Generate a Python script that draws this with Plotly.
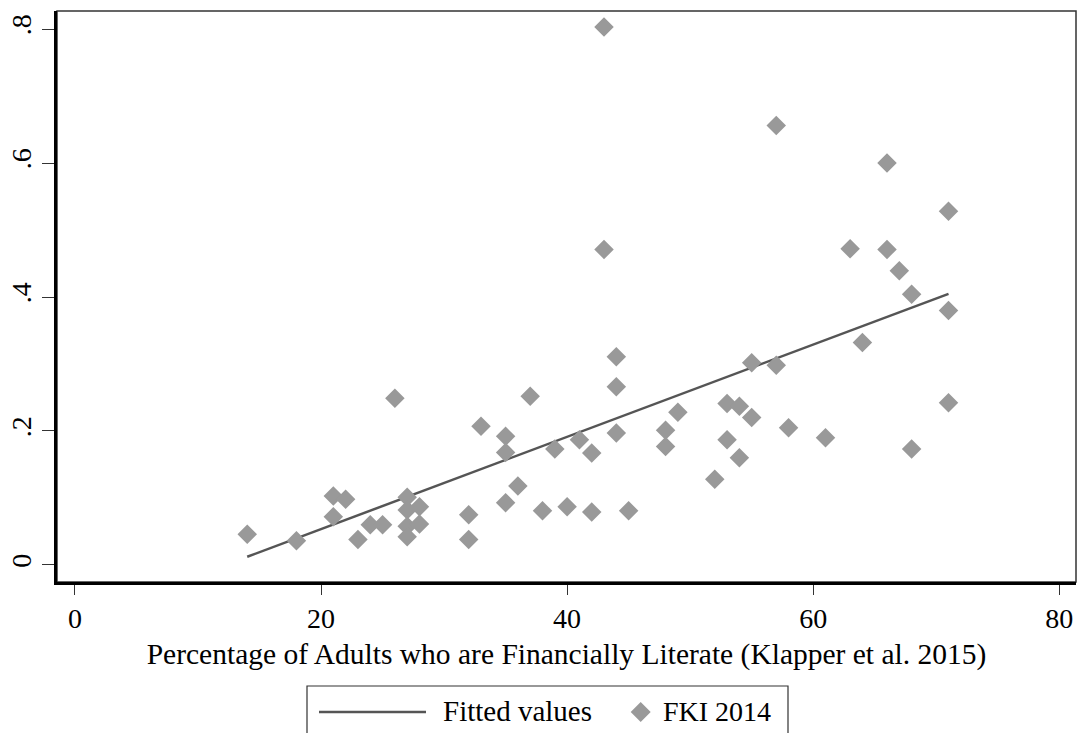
import numpy as np
import plotly.graph_objects as go

# Financial literacy (%) by country and FKI 2014 index
literacy = [14, 18, 21, 21, 22, 23, 24, 25, 26, 27, 27, 28, 27, 28, 27,
            32, 32, 33, 35, 35, 36, 35, 37, 38, 39, 40, 41, 42, 42, 43,
            43, 44, 44, 44, 45, 48, 48, 49, 52, 53, 53, 54, 54, 55, 55,
            57, 57, 58, 61, 63, 64, 66, 66, 67, 68, 68, 71, 71, 71]
fki_2014 = [0.046, 0.036, 0.103, 0.072, 0.098, 0.038, 0.060, 0.060, 0.249, 0.101,
            0.082, 0.087, 0.058, 0.061, 0.042, 0.075, 0.038, 0.207, 0.192, 0.168,
            0.118, 0.093, 0.252, 0.081, 0.173, 0.087, 0.187, 0.167, 0.079, 0.803,
            0.471, 0.311, 0.266, 0.197, 0.081, 0.201, 0.177, 0.228, 0.128, 0.241,
            0.187, 0.237, 0.160, 0.302, 0.220, 0.656, 0.298, 0.205, 0.190, 0.472,
            0.332, 0.600, 0.471, 0.439, 0.404, 0.173, 0.528, 0.380, 0.242]

x_ticks = [0, 20, 40, 60, 80]
y_ticks = [0, 0.2, 0.4, 0.6, 0.8]
y_tick_labels = ["0", ".2", ".4", ".6", ".8"]

# Linear fit over the observed range
slope, intercept = np.polyfit(literacy, fki_2014, 1)
fit_x = np.array([min(literacy), max(literacy)])
fit_y = intercept + slope * fit_x

FONT = "Liberation Serif, Times New Roman, serif"
LINE_COLOR = "#555555"
MARKER_COLOR = "#999999"

fig = go.Figure()
fig.add_trace(go.Scatter(
    x=fit_x, y=fit_y, mode="lines", name="Fitted values",
    line=dict(color=LINE_COLOR, width=2.5), showlegend=False,
))
fig.add_trace(go.Scatter(
    x=literacy, y=fki_2014, mode="markers", name="FKI 2014",
    marker=dict(symbol="diamond", size=15, color=MARKER_COLOR, line=dict(width=0)),
    showlegend=False,
))

# Plot-region frame (thin) on top/right; axes drawn thicker
shapes = [dict(type="rect", xref="paper", yref="paper", x0=0, x1=1, y0=0, y1=1,
               line=dict(color="#333333", width=1.5), layer="below")]

# Legend box drawn below the axis title
W, H, L, B = 1019.0, 571.0, 57.0, 582.0
def px(xp):
    return (xp - L) / W
def py(yp):
    return (B - yp) / H

shapes.append(dict(type="rect", xref="paper", yref="paper",
                   x0=px(307), x1=px(788), y0=py(750), y1=py(686),
                   line=dict(color="#333333", width=1.2), fillcolor="white"))
shapes.append(dict(type="line", xref="paper", yref="paper",
                   x0=px(319), x1=px(426), y0=py(712), y1=py(712),
                   line=dict(color=LINE_COLOR, width=2.5)))
cx, cy, r = 640.7, 712, 10
shapes.append(dict(type="path", xref="paper", yref="paper",
                   path=f"M {px(cx)},{py(cy - r)} L {px(cx + r)},{py(cy)} "
                        f"L {px(cx)},{py(cy + r)} L {px(cx - r)},{py(cy)} Z",
                   fillcolor=MARKER_COLOR, line=dict(width=0)))

annotations = [
    dict(text="Fitted values", xref="paper", yref="paper", x=px(441), y=py(711),
         xanchor="left", yanchor="middle", showarrow=False,
         font=dict(family=FONT, size=29, color="black")),
    dict(text="FKI 2014", xref="paper", yref="paper", x=px(661), y=py(711),
         xanchor="left", yanchor="middle", showarrow=False,
         font=dict(family=FONT, size=28, color="black")),
]

fig.update_layout(
    width=1081, height=733,
    margin=dict(l=57, r=5, t=11, b=151, autoexpand=False),
    paper_bgcolor="white", plot_bgcolor="white",
    font=dict(family=FONT, size=28, color="black"),
    shapes=shapes, annotations=annotations, showlegend=False,
)
fig.update_xaxes(
    range=[-1.46, 81.36], tickvals=x_ticks, showgrid=False, zeroline=False,
    showline=True, linecolor="black", linewidth=2.5,
    ticks="outside", ticklen=10, tickwidth=1.2, tickcolor="#333333",
    tickfont=dict(family=FONT, size=28),
    title=dict(text="Percentage of Adults who are Financially Literate (Klapper et al. 2015)",
               font=dict(family=FONT, size=29.5), standoff=11),
)
fig.update_yaxes(
    range=[-0.0254, 0.8269], tickvals=y_ticks, ticktext=y_tick_labels,
    showgrid=False, zeroline=False,
    showline=True, linecolor="black", linewidth=2.5,
    ticks="outside", ticklen=12, tickwidth=1.2, tickcolor="#333333",
    tickangle=-90, tickfont=dict(family=FONT, size=28),
)

fig.write_html("out.html")
